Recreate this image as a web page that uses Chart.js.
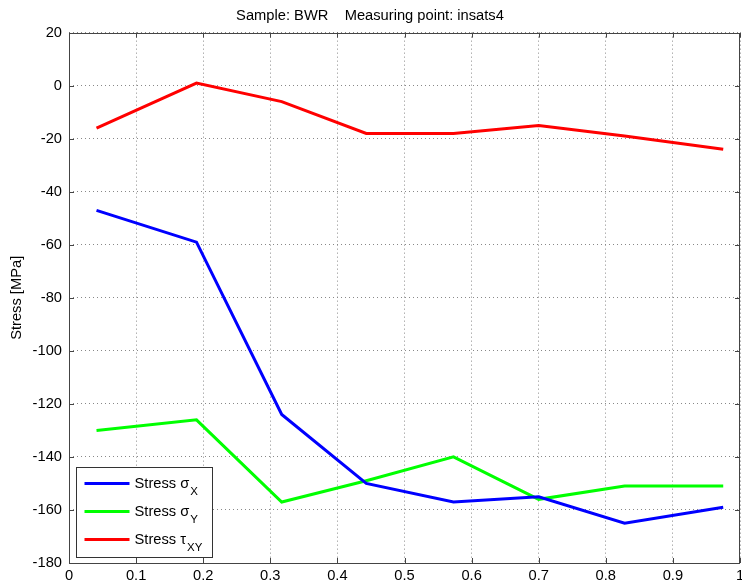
<!DOCTYPE html>
<html>
<head>
<meta charset="utf-8">
<script src="https://cdn.jsdelivr.net/npm/chart.js@4.4.0/dist/chart.umd.min.js"></script>
<style>
    html, body { margin: 0; padding: 0; background: #fff; }
    #wrap { width: 742px; height: 588px; position: relative; }
</style>
</head>
<body>
<div id="wrap"><canvas id="chartStress"></canvas></div>
<script>
// measuring positions along the specimen
const xPos = [0.041, 0.190, 0.317, 0.443, 0.573, 0.700, 0.828, 0.975];
// stresses in MPa
const stressX = [-47, -59, -124, -150, -157, -155, -165, -159];
const stressY = [-130, -126, -157, -149, -140, -156, -151, -151];
const tauXY = [-16, 1, -6, -18, -18, -15, -19, -24];

const seriesNames = [['Stress σ', 'X'], ['Stress σ', 'Y'], ['Stress τ', 'XY']];
const seriesColors = ['#0000ff', '#00ff00', '#ff0000'];
const xTickLabels = ['0', '0.1', '0.2', '0.3', '0.4', '0.5', '0.6', '0.7', '0.8', '0.9', '1'];
const yTickLabels = ['20', '0', '-20', '-40', '-60', '-80', '-100', '-120', '-140', '-160', '-180'];

const FONT = 'Arial, "Liberation Sans", Helvetica, sans-serif';
const FS = 14.7;

function points(ys) {
    return xPos.map((x, i) => ({ x: x, y: ys[i] }));
}

// box around the axes with inward ticks on every side
const axesBox = {
    id: 'axesBox',
    afterDatasetsDraw(chart) {
        const ctx = chart.ctx;
        const a = chart.chartArea;
        const tl = 5;
        ctx.save();
        ctx.strokeStyle = '#444';
        ctx.lineWidth = 1;
        ctx.beginPath();
        chart.scales.x.ticks.forEach(t => {
            const px = Math.round(chart.scales.x.getPixelForValue(t.value)) + 0.5;
            ctx.moveTo(px, a.bottom); ctx.lineTo(px, a.bottom - tl);
            ctx.moveTo(px, a.top); ctx.lineTo(px, a.top + tl);
        });
        chart.scales.y.ticks.forEach(t => {
            const py = Math.round(chart.scales.y.getPixelForValue(t.value)) + 0.5;
            ctx.moveTo(a.left, py); ctx.lineTo(a.left + tl, py);
            ctx.moveTo(a.right, py); ctx.lineTo(a.right - tl, py);
        });
        ctx.stroke();
        ctx.strokeRect(Math.round(a.left) + 0.5, Math.round(a.top) + 0.5,
            Math.round(a.right - a.left) - 1, Math.round(a.bottom - a.top));
        ctx.restore();
    }
};

// legend in the lower-left corner, with subscripts
const subLegend = {
    id: 'subLegend',
    afterDraw(chart) {
        const ctx = chart.ctx;
        const a = chart.chartArea;
        const w = 136, h = 90;
        const left = Math.round(a.left) + 7.5;
        const top = Math.round(a.bottom) - 6 - h + 0.5;
        ctx.save();
        ctx.fillStyle = '#fff';
        ctx.fillRect(left, top, w, h);
        ctx.strokeStyle = '#333';
        ctx.lineWidth = 1;
        ctx.strokeRect(left, top, w, h);
        chart.data.datasets.forEach((ds, i) => {
            const y = top + 16 + i * 28;
            ctx.strokeStyle = ds.borderColor;
            ctx.lineWidth = 3;
            ctx.beginPath();
            ctx.moveTo(left + 8, y);
            ctx.lineTo(left + 53, y);
            ctx.stroke();
            ctx.fillStyle = '#000';
            ctx.textBaseline = 'middle';
            ctx.font = FS + 'px ' + FONT;
            const main = seriesNames[i][0];
            ctx.fillText(main, left + 58, y);
            const mw = ctx.measureText(main).width;
            ctx.font = '11.5px ' + FONT;
            ctx.fillText(seriesNames[i][1], left + 58 + mw + 1, y + 8);
        });
        ctx.restore();
    }
};

new Chart(document.getElementById('chartStress'), {
    type: 'line',
    data: {
        datasets: [
            { label: 'Stress σX', data: points(stressX), borderColor: seriesColors[0] },
            { label: 'Stress σY', data: points(stressY), borderColor: seriesColors[1] },
            { label: 'Stress τXY', data: points(tauXY), borderColor: seriesColors[2] }
        ]
    },
    options: {
        responsive: true,
        maintainAspectRatio: false,
        animation: false,
        layout: { padding: { left: 0, right: 2, top: 0, bottom: 0 } },
        elements: {
            line: { borderWidth: 3, tension: 0 },
            point: { radius: 0, hoverRadius: 0 }
        },
        plugins: {
            legend: { display: false },
            tooltip: { enabled: false },
            title: {
                display: true,
                text: 'Sample: BWR    Measuring point: insats4',
                color: '#000',
                font: { family: FONT, size: FS, weight: 'normal' },
                padding: { top: 7, bottom: 8 }
            }
        },
        scales: {
            x: {
                type: 'linear',
                min: 0,
                max: 1,
                afterFit(scale) {
                    scale.height = 25;
                    scale.paddingRight = 0;
                },
                afterBuildTicks(scale) {
                    scale.ticks = xTickLabels.map(l => ({ value: parseFloat(l) }));
                },
                ticks: {
                    color: '#000',
                    font: { family: FONT, size: FS },
                    padding: 4,
                    maxRotation: 0,
                    callback: (v, i) => xTickLabels[i]
                },
                grid: { color: '#888', drawTicks: false, lineWidth: 1 },
                border: { display: false, dash: [1, 3] }
            },
            y: {
                min: -180,
                max: 20,
                afterFit(scale) { scale.width = 69; },
                afterBuildTicks(scale) {
                    scale.ticks = yTickLabels.map(l => ({ value: parseFloat(l) }));
                },
                ticks: {
                    color: '#000',
                    font: { family: FONT, size: FS },
                    padding: 7,
                    callback: (v, i) => yTickLabels[i]
                },
                title: {
                    display: true,
                    text: 'Stress [MPa]',
                    color: '#000',
                    font: { family: FONT, size: FS },
                    padding: { top: 8, bottom: 0 }
                },
                grid: { color: '#888', drawTicks: false, lineWidth: 1 },
                border: { display: false, dash: [1, 3] }
            }
        }
    },
    plugins: [axesBox, subLegend]
});
</script>
</body>
</html>
